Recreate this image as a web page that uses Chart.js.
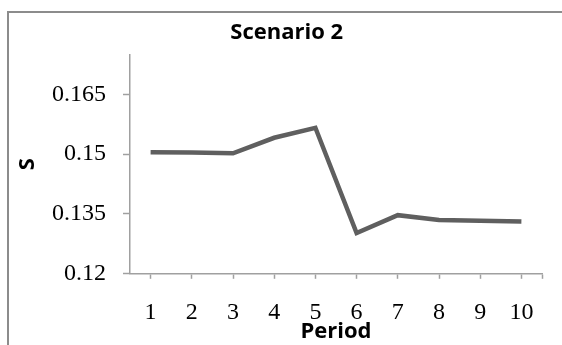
<!DOCTYPE html>
<html>
<head>
<meta charset="utf-8">
<script src="https://cdn.jsdelivr.net/npm/chart.js@4.4.1/dist/chart.umd.min.js"></script>
<style>
  html, body { margin: 0; padding: 0; background: #ffffff; overflow: hidden; }
  #wrap { position: relative; width: 562px; height: 345px; overflow: hidden; }
  #frame {
    position: absolute; left: 7px; top: 11px; width: 600px; height: 400px;
    border-left: 2px solid #8c8c8c; border-top: 2px solid #8c8c8c;
    box-sizing: border-box;
  }
  canvas { position: absolute; left: 0; top: 0; }
</style>
</head>
<body>
<div id="wrap">
  <div id="frame"></div>
  <canvas id="chart" width="562" height="345"></canvas>
</div>
<script>
// Periods and the S value in each period
const periods = [1, 2, 3, 4, 5, 6, 7, 8, 9, 10];
const sValues = [0.1505, 0.1504, 0.1502, 0.1541, 0.1566, 0.1302, 0.1347, 0.1335, 0.1333, 0.1331];

// Axis ticks
const yTickValues = [0.12, 0.135, 0.15, 0.165];
const yTickLabels = ['0.12', '0.135', '0.15', '0.165'];
const xTickValues = [1, 2, 3, 4, 5, 6, 7, 8, 9, 10];
const xTickLabels = ['1', '2', '3', '4', '5', '6', '7', '8', '9', '10'];

const axisGrey = '#a0a0a0';
const serif = "'Liberation Serif', 'DejaVu Serif', serif";
const sans = "'Open Sans', Lato, sans-serif";

new Chart(document.getElementById('chart'), {
  type: 'line',
  data: {
    datasets: [{
      data: periods.map((p, i) => ({ x: p, y: sValues[i] })),
      borderColor: '#5f5f5f',
      borderWidth: 4.5,
      pointRadius: 0,
      tension: 0,
      fill: false
    }]
  },
  options: {
    responsive: false,
    animation: false,
    events: [],
    layout: { padding: { left: 27, right: 15.5, top: 0, bottom: 0 } },
    plugins: {
      legend: { display: false },
      tooltip: { enabled: false },
      title: {
        display: true,
        text: 'Scenario 2',
        color: '#000000',
        font: { family: sans, size: 22, weight: 'bold' },
        padding: { top: 20, bottom: 8 }
      }
    },
    scales: {
      x: {
        type: 'linear',
        min: 0.5,
        max: 10.5,
        afterBuildTicks: (scale) => {
          // one tick under each period, plus a closing tick at the axis end
          scale.ticks = xTickValues.map(v => ({ value: v })).concat([{ value: 10.5 }]);
        },
        ticks: {
          autoSkip: false,
          maxRotation: 0,
          color: '#000000',
          font: { family: serif, size: 24 },
          padding: 20,
          callback: (value) => {
            const i = xTickValues.indexOf(value);
            return i >= 0 ? xTickLabels[i] : '';
          }
        },
        grid: { drawOnChartArea: false, color: axisGrey, tickLength: 5, tickWidth: 1.5 },
        border: { color: axisGrey, width: 1.5 },
        title: {
          display: true,
          text: 'Period',
          color: '#000000',
          font: { family: sans, size: 22, weight: 'bold' },
          padding: { top: -29, bottom: 0 }
        }
      },
      y: {
        min: 0.12,
        max: 0.175,
        afterBuildTicks: (scale) => {
          scale.ticks = yTickValues.map(v => ({ value: v }));
        },
        afterFit: (scale) => { scale.width = 103; },
        ticks: {
          color: '#000000',
          font: { family: serif, size: 24 },
          padding: 17,
          callback: (value) => {
            const i = yTickValues.indexOf(value);
            return i >= 0 ? yTickLabels[i] : '';
          }
        },
        grid: { drawOnChartArea: false, color: axisGrey, tickLength: 7, tickWidth: 1.5 },
        border: { color: axisGrey, width: 1.5 },
        title: {
          display: true,
          text: 'S',
          color: '#000000',
          font: { family: sans, size: 22, weight: 'bold' },
          padding: { top: -12, bottom: 0 }
        }
      }
    }
  }
});
</script>
</body>
</html>
